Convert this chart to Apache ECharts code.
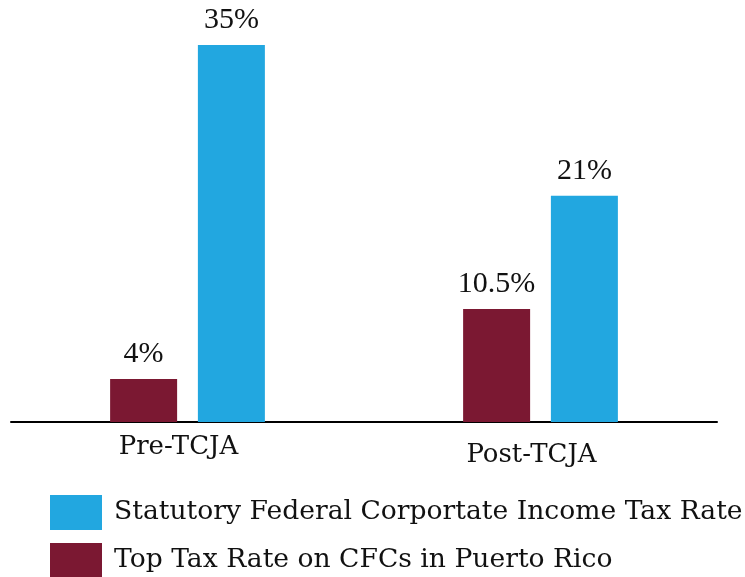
<!DOCTYPE html>
<html>
<head>
<meta charset="utf-8">
<script src="https://cdn.jsdelivr.net/npm/echarts@6/dist/echarts.min.js"></script>
<style>
  html, body { margin: 0; padding: 0; background: #fff; }
  #chart { width: 745px; height: 577px; }
</style>
</head>
<body>
<div id="chart"></div>
<script>
const categories = ['Pre-TCJA', 'Post-TCJA']
const puertoRicoRate = [4, 10.5]
const federalRate = [35, 21]
const puertoRicoName = 'Top Tax Rate on CFCs in Puerto Rico'
const federalName = 'Statutory Federal Corportate Income Tax Rate'

const maroon = '#7b1832'
const blue = '#22a7e0'
const font = 'DejaVu Serif'
const numFont = 'Liberation Serif'

const chart = echarts.init(document.getElementById('chart'), undefined, { renderer: 'canvas' })

const barLabel = {
  show: true,
  position: 'top',
  distance: 10,
  color: '#111',
  fontFamily: numFont,
  fontSize: 30,
  formatter: (p) => p.value + '%',
}

// one legend block per entry so they stack like the original
const legendBase = {
  orient: 'vertical',
  left: 50,
  padding: 0,
  itemWidth: 52,
  itemHeight: 35,
  icon: 'rect',
  selectedMode: false,
  textStyle: { fontFamily: font, fontSize: 26.6, color: '#111', padding: [2, 0, 0, 7] },
}

chart.setOption({
  animation: false,
  textStyle: { fontFamily: font },
  grid: { left: 11, right: 28, top: 45, bottom: 155 },
  legend: [
    { ...legendBase, top: 495, data: [federalName] },
    { ...legendBase, top: 543, data: [puertoRicoName] },
  ],
  xAxis: {
    type: 'category',
    data: categories,
    axisLine: { lineStyle: { color: '#000', width: 2 } },
    axisTick: { show: false },
    axisLabel: {
      color: '#111',
      margin: 12,
      formatter: (v, i) => (i === 0 ? '{pre|' + v + '}' : '{post|' + v + '}'),
      rich: {
        pre: { fontFamily: font, fontSize: 26, color: '#111', padding: [0, 18, 0, 0] },
        post: { fontFamily: font, fontSize: 26, color: '#111', padding: [8, 18, 0, 0] },
      },
    },
  },
  yAxis: {
    type: 'value',
    min: 0,
    max: 35,
    show: false,
    splitLine: { show: false },
  },
  series: [
    {
      name: puertoRicoName,
      type: 'bar',
      data: puertoRicoRate,
      barWidth: 67,
      barGap: '31%',
      itemStyle: { color: maroon },
      label: barLabel,
    },
    {
      name: federalName,
      type: 'bar',
      data: federalRate,
      barWidth: 67,
      barGap: '31%',
      itemStyle: { color: blue },
      label: barLabel,
    },
  ],
})
</script>
</body>
</html>
